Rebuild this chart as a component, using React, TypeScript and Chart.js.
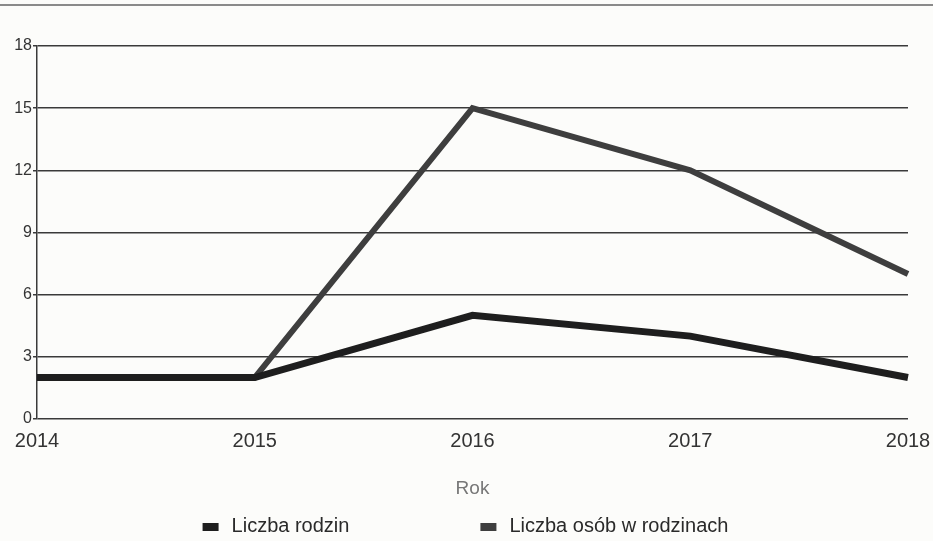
import React, { useEffect, useRef } from "react";
import { Chart, registerables } from "chart.js";

Chart.register(...registerables);

const categories = ["2014", "2015", "2016", "2017", "2018"];
const rodzin = [2, 2, 5, 4, 2];
const osob = [2, 2, 15, 12, 7];
const seriesNames = ["Liczba rodzin", "Liczba osób w rodzinach"];
const seriesColors = ["#1e1e1e", "#3e3e3e"];
const axisTitle = "Rok";

const FONT = "'Liberation Sans', Arial, sans-serif";

const topLinePlugin = {
  id: "topLine",
  beforeDraw(chart: any) {
    const { ctx, width } = chart;
    ctx.save();
    ctx.fillStyle = "#fcfcfa";
    ctx.fillRect(0, 0, width, chart.height);
    ctx.strokeStyle = "#8a8a8a";
    ctx.lineWidth = 2;
    ctx.beginPath();
    ctx.moveTo(0, 5);
    ctx.lineTo(width, 5);
    ctx.stroke();
    ctx.restore();
  },
};

const customLegend = {
  id: "customLegend",
  afterDraw(chart: any) {
    const { ctx, width } = chart;
    ctx.save();
    ctx.font = `20px ${FONT}`;
    ctx.textBaseline = "middle";
    const boxW = 16;
    const boxH = 8;
    const textGap = 13;
    const itemGap = 131;
    const items = chart.data.datasets.map((d: any) => ({
      label: d.label,
      color: d.borderColor,
      w: boxW + textGap + ctx.measureText(d.label).width,
    }));
    const total = items.reduce((s: number, it: any) => s + it.w, 0) + itemGap * (items.length - 1);
    let x = width / 2 - 1 - total / 2;
    const y = 526;
    for (const it of items) {
      ctx.fillStyle = it.color;
      ctx.fillRect(x, y - boxH / 2 + 1, boxW, boxH);
      ctx.fillStyle = "#2a2a2a";
      ctx.fillText(it.label, x + boxW + textGap, y);
      x += it.w + itemGap;
    }
    ctx.restore();
  },
};

export default function App() {
  const ref = useRef<HTMLCanvasElement | null>(null);
  useEffect(() => {
    document.body.style.margin = "0";
    if (!ref.current) return;
    const chart = new Chart(ref.current, {
      type: "line",
      data: {
        labels: categories,
        datasets: [
          {
            label: seriesNames[0],
            data: rodzin,
            borderColor: seriesColors[0],
            backgroundColor: seriesColors[0],
            borderWidth: 7,
            pointRadius: 0,
            tension: 0,
            borderJoinStyle: "miter",
          },
          {
            label: seriesNames[1],
            data: osob,
            borderColor: seriesColors[1],
            backgroundColor: seriesColors[1],
            borderWidth: 6,
            pointRadius: 0,
            tension: 0,
            borderJoinStyle: "miter",
          },
        ],
      },
      options: {
        animation: false,
        responsive: false,
        layout: { padding: { top: 46, left: 0, right: 25, bottom: 37 } },
        plugins: { legend: { display: false }, tooltip: { enabled: false } },
        scales: {
          x: {
            grid: { display: false, drawTicks: false },
            border: { display: false },
            ticks: { color: "#333", font: { size: 20, family: FONT }, padding: 10, maxRotation: 0 },
            title: {
              display: true,
              text: axisTitle,
              color: "#777",
              font: { size: 19, family: FONT },
              padding: { top: 4, bottom: 4 },
            },
            afterFit: (s: any) => {
              s.height = 85;
              s.paddingLeft = 0;
              s.paddingRight = 0;
            },
          },
          y: {
            min: 0,
            max: 18,
            ticks: { stepSize: 3, color: "#333", font: { size: 16, family: FONT }, padding: 1 },
            grid: { color: "#3a3a3a", lineWidth: 1.5, tickLength: 4 },
            border: { display: true, color: "#3a3a3a", width: 1.5 },
            afterFit: (s: any) => {
              s.width = 37;
            },
          },
        },
      },
      plugins: [topLinePlugin, customLegend],
    });
    return () => chart.destroy();
  }, []);
  return <canvas ref={ref} width={933} height={541} style={{ display: "block" }} />;
}
